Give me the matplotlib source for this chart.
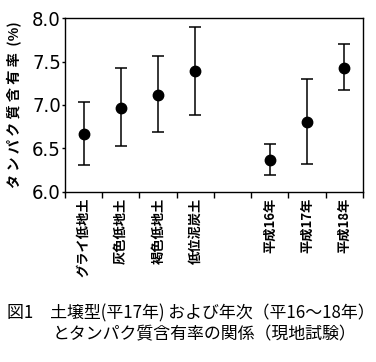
import matplotlib
matplotlib.use('Agg')
import matplotlib.pyplot as plt
import numpy as np

plt.rcParams['font.family'] = ['Noto Sans CJK JP', 'DejaVu Sans']

# soil types (H17) and years (H16-18); empty slot separates the groups
categories = ['グライ低地土', '灰色低地土', '褐色低地土', '低位泥炭土', '',
              '平成16年', '平成17年', '平成18年']
means = [6.67, 6.97, 7.12, 7.39, np.nan, 6.37, 6.80, 7.42]
err_low = [0.36, 0.44, 0.43, 0.51, np.nan, 0.18, 0.48, 0.25]
err_high = [0.37, 0.45, 0.44, 0.51, np.nan, 0.18, 0.50, 0.28]
yticks = [6.0, 6.5, 7.0, 7.5, 8.0]

fig = plt.figure(figsize=(3.76, 3.62), dpi=100)
ax = fig.add_axes([0.173, 0.470, 0.792, 0.480])

x = np.arange(len(categories))
ax.errorbar(x, means, yerr=[err_low, err_high], fmt='o', color='black',
            markersize=7.5, elinewidth=1.1, capsize=4, capthick=1.1)

ax.set_xlim(-0.5, len(categories) - 0.5)
ax.set_ylim(6.0, 8.0)
ax.set_yticks(yticks)
ax.set_yticklabels(['{:.1f}'.format(v) for v in yticks],
                   family='DejaVu Sans', fontstretch='condensed',
                   fontweight='light', fontsize=14.5)
ax.tick_params(axis='y', direction='out', length=2, width=1, pad=1)

ax.set_xticks(x)
ax.set_xticklabels(categories, rotation=90, fontsize=9.5, fontweight='bold', va='top')
ax.tick_params(axis='x', which='major', length=0, pad=4)
ax.set_xticks(np.arange(-0.5, len(categories)), minor=True)
ax.tick_params(axis='x', which='minor', direction='out', length=4, width=1)

for s in ax.spines.values():
    s.set_linewidth(1.0)

fig.text(0.04, 1 - 105 / 362, 'タ ン パ ク 質 含 有 率  (%)', rotation=90,
         ha='center', va='center', fontsize=10.2, fontweight='bold')

fig.text(0.018, 1 - 313 / 362, '図1　土壌型(平17年) および年次（平16～18年）',
         ha='left', va='center', fontsize=12.2)
fig.text(0.14, 1 - 334 / 362, 'とタンパク質含有率の関係（現地試験）',
         ha='left', va='center', fontsize=12.2)

fig.savefig('out.png', dpi=100)
